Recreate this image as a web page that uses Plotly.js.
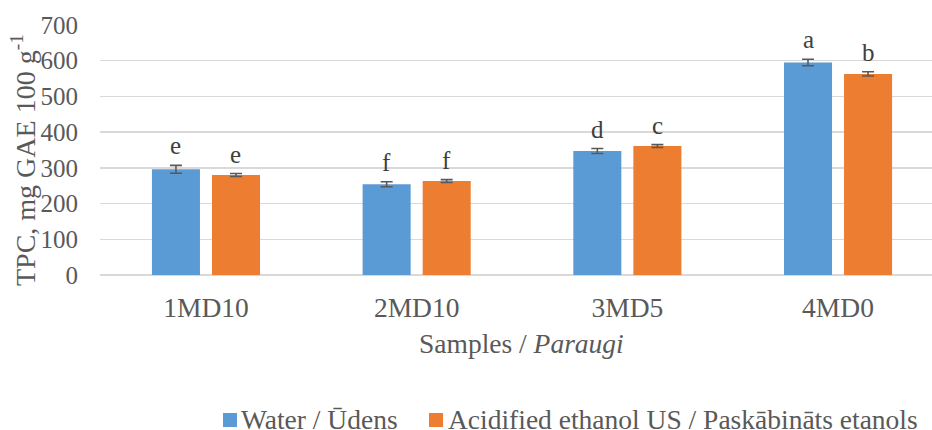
<!DOCTYPE html>
<html>
<head>
<meta charset="utf-8">
<script src="https://cdn.plot.ly/plotly-3.0.1.min.js"></script>
<style>html,body{margin:0;padding:0;background:#fff;}#chart{width:932px;height:430px;}</style>
</head>
<body>
<div id="chart"></div>
<script>
var categories = ["1MD10", "2MD10", "3MD5", "4MD0"];
var seriesNames = ["Water / Ūdens", "Acidified ethanol US / Paskābināts etanols"];
var waterValues = [296, 254, 347, 595];
var waterErrors = [11, 7, 7, 9];
var ethanolValues = [280, 263, 361, 563];
var ethanolErrors = [4, 4, 4, 6];
var waterLetters = ["e", "f", "d", "a"];
var ethanolLetters = ["e", "f", "c", "b"];
var yTicks = [0, 100, 200, 300, 400, 500, 600, 700];

var font = "Liberation Serif";
var txt = "#595959";
var colors = ["#5b9bd5", "#ed7d31"];
var fs = 27.5;

function barTrace(name, vals, errs, color) {
  return {
    type: "bar", name: name, x: categories, y: vals,
    marker: {color: color}, showlegend: false,
    error_y: {type: "data", array: errs, visible: true, color: "#595959", thickness: 1.6, width: 6}
  };
}

var data = [
  barTrace(seriesNames[0], waterValues, waterErrors, colors[0]),
  barTrace(seriesNames[1], ethanolValues, ethanolErrors, colors[1])
];

var annotations = [];
var shapes = [];
var offsets = [-0.1424, 0.1424];
[[waterValues, waterErrors, waterLetters], [ethanolValues, ethanolErrors, ethanolLetters]].forEach(function(s, si) {
  for (var i = 0; i < categories.length; i++) {
    annotations.push({
      x: i + offsets[si], y: s[0][i] + s[1][i], xref: "x", yref: "y",
      text: s[2][i], showarrow: false, yanchor: "bottom", yshift: 4,
      font: {family: font, size: 25, color: "#404040"}
    });
  }
});
// axis titles
annotations.push({
  x: 0.507, y: -0.275, xref: "paper", yref: "paper", xanchor: "center", yanchor: "middle",
  text: "Samples / <i>Paraugi</i>", showarrow: false,
  font: {family: font, size: fs, color: txt}
});
annotations.push({
  x: -0.0925, y: 0.46, xref: "paper", yref: "paper", xanchor: "center", yanchor: "middle",
  text: "TPC, mg GAE 100 g<sup>-1</sup>", textangle: -90, showarrow: false,
  font: {family: font, size: 28, color: txt}
});

// custom legend (paper coordinates; plot spans x 100..932 px, y 25..275 px)
var legendSquareX = [0.1478, 0.3954];
var legendTextX = [0.1671, 0.4159];
for (var k = 0; k < seriesNames.length; k++) {
  shapes.push({
    type: "rect", xref: "paper", yref: "paper",
    x0: legendSquareX[k], x1: legendSquareX[k] + 0.0169, y0: -0.608, y1: -0.552,
    fillcolor: colors[k], line: {width: 0}
  });
  annotations.push({
    x: legendTextX[k], y: -0.578, xref: "paper", yref: "paper", xanchor: "left", yanchor: "middle",
    text: seriesNames[k], showarrow: false,
    font: {family: font, size: fs, color: txt}
  });
}

var layout = {
  width: 932, height: 430,
  font: {family: font, size: fs, color: txt},
  margin: {l: 100, r: 0, t: 25, b: 155, autoexpand: false},
  paper_bgcolor: "#fff", plot_bgcolor: "#fff",
  barmode: "group", bargap: 0.43, bargroupgap: 0.2,
  showlegend: false,
  xaxis: {
    type: "category", range: [-0.503, 3.446], showgrid: false, zeroline: false,
    showline: false, ticks: "outside", ticklen: 8, tickcolor: "rgba(0,0,0,0)",
    tickfont: {family: font, size: fs, color: txt}
  },
  yaxis: {
    range: [0, 700], tickvals: yTicks, ticktext: yTicks.map(String),
    showgrid: true, gridcolor: "#d9d9d9", gridwidth: 1.3,
    zeroline: true, zerolinecolor: "#d9d9d9", zerolinewidth: 1.3,
    showline: false, ticks: "outside", ticklen: 16, tickcolor: "rgba(0,0,0,0)",
    tickfont: {family: font, size: 25, color: txt}
  },
  shapes: shapes,
  annotations: annotations
};

Plotly.newPlot("chart", data, layout, {displayModeBar: false, staticPlot: true});
</script>
</body>
</html>
